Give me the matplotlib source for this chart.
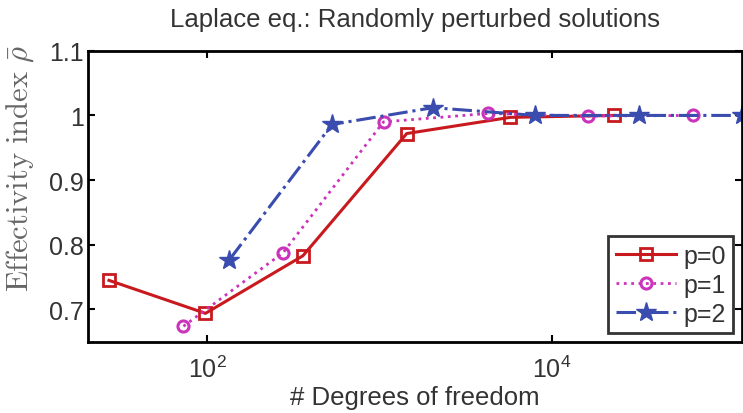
import matplotlib
matplotlib.use("Agg")
import matplotlib.pyplot as plt

plt.rcParams['font.family'] = ['Liberation Sans', 'DejaVu Sans']
plt.rcParams['mathtext.fontset'] = 'cm'

# degrees of freedom and effectivity index
dof_p0 = [27, 98, 360, 1440, 5730, 22900]
rho_p0 = [0.745, 0.694, 0.783, 0.972, 0.997, 1.000]

dof_p1 = [73, 277, 1056, 4240, 16300, 65600]
rho_p1 = [0.674, 0.788, 0.990, 1.003, 0.999, 1.000]

dof_p2 = [135, 531, 2043, 8000, 32000, 126800]
rho_p2 = [0.777, 0.986, 1.012, 1.000, 1.000, 1.000]

labels = ['p=0', 'p=1', 'p=2']

red = '#c8191e'
magenta = '#cc33bb'
blue = '#3a4cae'
text_col = '#333333'

fig = plt.figure(figsize=(7.43, 4.14), dpi=100)
ax = fig.add_axes([0.1184, 0.172, 0.8803, 0.703])

ax.plot(dof_p0, rho_p0, '-', color=red, lw=2.2, marker='s', ms=8,
        mfc='none', mec=red, mew=2, label=labels[0])
ax.plot(dof_p1, rho_p1, ':', color=magenta, lw=2.0, marker='o', ms=8,
        mfc='none', mec=magenta, mew=2.2, label=labels[1])
ax.plot(dof_p2, rho_p2, '-.', color=blue, lw=2.2, marker='*', ms=15,
        mfc=blue, mec=blue, label=labels[2], clip_on=False)

ax.set_xscale('log')
ax.set_xlim(20.4, 1.268e5)
ax.set_ylim(0.65, 1.1)
ax.set_xticks([1e2, 1e4])
ax.xaxis.set_minor_locator(matplotlib.ticker.NullLocator())
ax.set_yticks([0.7, 0.8, 0.9, 1.0, 1.1])
ax.set_yticklabels(['0.7', '0.8', '0.9', '1', '1.1'])

ax.tick_params(direction='in', length=5, width=1.5, labelsize=18,
               colors='black', labelcolor=text_col, top=True, right=True, pad=3)
ax.tick_params(axis='x', pad=10)
for s in ax.spines.values():
    s.set_linewidth(2)

ax.set_title('Laplace eq.: Randomly perturbed solutions', fontsize=18.5,
             color=text_col, pad=18)
ax.set_xlabel('# Degrees of freedom', fontsize=18.5, color=text_col, labelpad=2)
ax.set_ylabel(r'$\mathrm{Effectivity\ index}\ \bar{\rho}$', fontsize=22,
              color='#666666')
ax.yaxis.set_label_coords(-0.08, 0.60)

leg = ax.legend(loc='lower right', fontsize=18, frameon=True, fancybox=False,
                edgecolor='black', handlelength=2.4, labelspacing=0.2,
                borderpad=0.3, handletextpad=0.3, borderaxespad=0.35)
leg.get_frame().set_linewidth(2)
for t in leg.get_texts():
    t.set_color(text_col)

fig.savefig('out.png', dpi=100)
